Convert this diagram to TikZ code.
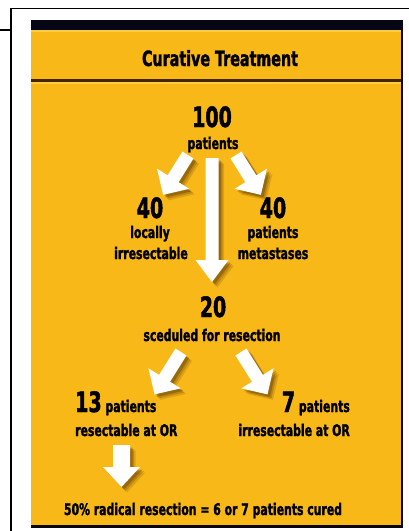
\documentclass[tikz,border=0pt]{standalone}
\usepackage{fontspec}
\newfontfamily\dvs{DejaVu Sans}[FakeStretch=0.68, BoldFeatures={FakeBold=1.6}]
\definecolor{gold}{RGB}{248,184,24}
\definecolor{goldlight}{RGB}{252,204,70}
\definecolor{panel}{RGB}{6,6,22}
\definecolor{sepc}{RGB}{70,38,0}
\definecolor{shadowc}{RGB}{70,35,0}
\newcommand\bigfont{\dvs\bfseries\fontsize{28}{30}\selectfont}
\newcommand\smallfont{\dvs\bfseries\fontsize{16}{18}\selectfont}
\newcommand\blockarrow[6]{%
  \foreach \o/\op in {5.5/0.15,4/0.2,2.5/0.3}{%
    \fill[shadowc, opacity=\op, shift={(#1)}, xshift=\o pt, yshift=-\o pt, rotate=#2]
      (0,{-#4/2}) -- ({#3-#6},{-#4/2}) -- ({#3-#6},{-#5/2}) -- (#3,0)
      -- ({#3-#6},{#5/2}) -- ({#3-#6},{#4/2}) -- (0,{#4/2}) -- cycle;
  }%
  \fill[white, shift={(#1)}, rotate=#2]
      (0,{-#4/2}) -- ({#3-#6},{-#4/2}) -- ({#3-#6},{-#5/2}) -- (#3,0)
      -- ({#3-#6},{#5/2}) -- ({#3-#6},{#4/2}) -- (0,{#4/2}) -- cycle;
}
\tikzset{
  big/.style={font=\bigfont, inner sep=0pt},
  small/.style={font=\smallfont, inner sep=0pt},
  ttl/.style={font=\dvs\bfseries\fontsize{21}{23}\selectfont, inner sep=0pt},
  frameline/.style={line width=1.6pt, black},
}
\begin{document}
\begin{tikzpicture}[x=1pt,y=-1pt]
\useasboundingbox (0,0) rectangle (409,531);
\fill[white] (0,0) rectangle (409,531);
% outer frame lines
\draw[frameline] (10.8,531) -- (10.8,8.3) -- (409,8.3);
\draw[frameline] (0,30) -- (10.8,30);
% panel
\fill[panel] (31,20) rectangle (403,528);
\fill[gold] (31,30) rectangle (401,79);
\fill[goldlight] (31,30) rectangle (401,31.5);
\fill[sepc] (31,79) rectangle (401,82);
\fill[gold] (31,82) rectangle (401,525);
\fill[goldlight] (31,82) rectangle (401,83.5);
% title
\node[ttl, anchor=base] (title) at (220,66) {Curative Treatment};
% arrows
\coordinate (a1) at (188,155);
\coordinate (a2) at (236,155);
\coordinate (a3) at (212,158);
\coordinate (a4) at (181,352);
\coordinate (a5) at (241,352);
\coordinate (a6) at (121.5,445);
\blockarrow{a1}{238}{47}{13}{38}{19}
\blockarrow{a2}{302}{47}{13}{38}{19}
\blockarrow{a3}{270}{124}{13}{33}{22}
\blockarrow{a4}{238}{50}{13}{38}{19}
\blockarrow{a5}{302}{50}{13}{38}{19}
\blockarrow{a6}{270}{42}{17}{37}{20}
% texts
\node[big, anchor=base] (n100) at (212,127) {100};
\node[small, anchor=base] (p100) at (213,149) {patients};
\node[big, anchor=base] (n40l) at (150,218) {40};
\node[small, anchor=base] (loc) at (150,238) {locally};
\node[small, anchor=base] (irr) at (151,259) {irresectable};
\node[big, anchor=base] (n40r) at (273,218) {40};
\node[small, anchor=base] (pm) at (273,238) {patients};
\node[small, anchor=base] (met) at (273,259) {metastases};
\node[big, anchor=base] (n20) at (213,317) {20};
\node[small, anchor=base] (sced) at (212,341) {sceduled for resection};
\node[small, anchor=base west] (n13) at (75,412) {{\bigfont 13} patients};
\node[small, anchor=base west] (res) at (75,436) {resectable at OR};
\node[small, anchor=base east] (n7) at (350,412) {{\bigfont 7} patients};
\node[small, anchor=base east] (irrOR) at (350,436) {irresectable at OR};
\node[small, anchor=base] (cure) at (203,515) {50\% radical resection = 6 or 7 patients cured};
\end{tikzpicture}
\end{document}
